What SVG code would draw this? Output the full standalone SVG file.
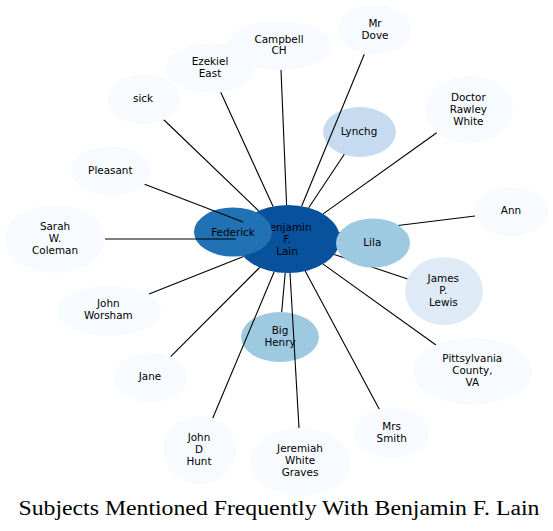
<svg xmlns="http://www.w3.org/2000/svg" width="553" height="531" viewBox="0 0 553 531">
<style>
.n{font-family:"DejaVu Sans","Liberation Sans",sans-serif;font-size:10.4px;fill:#000;text-anchor:middle}
.e line{stroke:#000;stroke-width:1.1;fill:none}
.c0{fill:#08519c}.c1{fill:#2171b5}.c2{fill:#9ecae1}.c3{fill:#c6dbef}.c4{fill:#deebf7}.c5{fill:#f7fbff}
.t{font-family:"Liberation Serif","DejaVu Serif",serif;font-size:20px;fill:#000}
</style>
<rect width="553" height="531" fill="#fff"/>
<g id="node-center"><ellipse class="c0" cx="288" cy="239" rx="52" ry="34"/><text class="n" x="287" y="230.5">Benjamin</text><text class="n" x="287" y="242.5">F.</text><text class="n" x="287" y="254.5">Lain</text></g>
<g id="node-federick"><ellipse class="c1" cx="233" cy="232" rx="39" ry="24.5"/><text class="n" x="233" y="235.7">Federick</text></g>
<g id="node-bighenry"><ellipse class="c2" cx="280" cy="337" rx="39" ry="25"/><text class="n" x="280" y="334.3">Big</text><text class="n" x="280" y="345.8">Henry</text></g>
<g id="node-lynchg"><ellipse class="c3" cx="359.5" cy="132" rx="36.5" ry="25"/><text class="n" x="359" y="135">Lynchg</text></g>
<g id="connectors" class="e">
<line x1="163" y1="119" x2="258.7" y2="210.9"/>
<line x1="220.7" y1="92.3" x2="273.1" y2="206.4"/>
<line x1="281" y1="70" x2="286.6" y2="205"/>
<line x1="364.3" y1="54.3" x2="301.6" y2="206.2"/>
<line x1="344.3" y1="154.3" x2="308.7" y2="207.8"/>
<line x1="436.7" y1="132.7" x2="323.1" y2="213.9"/>
<line x1="475" y1="216" x2="339.1" y2="232.7"/>
<line x1="339.5" y1="241.3" x2="350" y2="242"/>
<line x1="407.7" y1="279" x2="334.3" y2="254.5"/>
<line x1="436" y1="345" x2="323.1" y2="264.1"/>
<line x1="379.3" y1="409.3" x2="305.2" y2="271.1"/>
<line x1="299" y1="428" x2="290" y2="273"/>
<line x1="281.7" y1="312" x2="285.2" y2="273"/>
<line x1="212.7" y1="418.3" x2="274.2" y2="271.8"/>
<line x1="170.7" y1="356.7" x2="259.6" y2="267.5"/>
<line x1="149" y1="294" x2="243.5" y2="256.6"/>
<line x1="105" y1="239" x2="236" y2="239"/>
<line x1="144" y1="184" x2="243.1" y2="221.9"/>
</g>
<g id="node-lila"><ellipse class="c2" cx="373" cy="243" rx="37" ry="24.5"/><text class="n" x="372.3" y="246">Lila</text></g>
<g id="node-james"><ellipse class="c4" cx="444" cy="291" rx="39" ry="34"/><text class="n" x="443.3" y="282">James</text><text class="n" x="443.3" y="294">P.</text><text class="n" x="443.3" y="306">Lewis</text></g>
<g id="node-mrdove"><ellipse class="c5" cx="374.5" cy="29.5" rx="36.5" ry="24.5"/><text class="n" x="375" y="27">Mr</text><text class="n" x="375" y="38.5">Dove</text></g>
<g id="node-campbell"><ellipse class="c5" cx="279.5" cy="45.5" rx="52" ry="24.5"/><text class="n" x="279" y="42.5">Campbell</text><text class="n" x="279" y="54">CH</text></g>
<g id="node-ezekiel"><ellipse class="c5" cx="210" cy="68" rx="44" ry="25"/><text class="n" x="210" y="65">Ezekiel</text><text class="n" x="210" y="77">East</text></g>
<g id="node-sick"><ellipse class="c5" cx="143.5" cy="99" rx="36.5" ry="25"/><text class="n" x="143" y="102">sick</text></g>
<g id="node-doctor"><ellipse class="c5" cx="469" cy="109.5" rx="44" ry="33.5"/><text class="n" x="468.3" y="101">Doctor</text><text class="n" x="468.3" y="113">Rawley</text><text class="n" x="468.3" y="125">White</text></g>
<g id="node-pleasant"><ellipse class="c5" cx="111" cy="171" rx="40" ry="24.5"/><text class="n" x="110.3" y="174">Pleasant</text></g>
<g id="node-ann"><ellipse class="c5" cx="511.5" cy="211.5" rx="36.5" ry="24.5"/><text class="n" x="511" y="214">Ann</text></g>
<g id="node-sarah"><ellipse class="c5" cx="55" cy="239" rx="50" ry="34"/><text class="n" x="55" y="230">Sarah</text><text class="n" x="55" y="242">W.</text><text class="n" x="55" y="254">Coleman</text></g>
<g id="node-worsham"><ellipse class="c5" cx="109" cy="311" rx="52" ry="25"/><text class="n" x="108.3" y="307.3">John</text><text class="n" x="108.3" y="319.3">Worsham</text></g>
<g id="node-jane"><ellipse class="c5" cx="150.5" cy="377.5" rx="36.5" ry="24.5"/><text class="n" x="150" y="380">Jane</text></g>
<g id="node-hunt"><ellipse class="c5" cx="199.5" cy="450" rx="36.5" ry="34"/><text class="n" x="199" y="440.7">John</text><text class="n" x="199" y="452.7">D</text><text class="n" x="199" y="464.7">Hunt</text></g>
<g id="node-jeremiah"><ellipse class="c5" cx="300.5" cy="462" rx="50" ry="34"/><text class="n" x="300" y="452.3">Jeremiah</text><text class="n" x="300" y="464.3">White</text><text class="n" x="300" y="476.3">Graves</text></g>
<g id="node-smith"><ellipse class="c5" cx="391.5" cy="433" rx="37.5" ry="25"/><text class="n" x="391.7" y="430">Mrs</text><text class="n" x="391.7" y="442">Smith</text></g>
<g id="node-pittsylvania"><ellipse class="c5" cx="472.5" cy="371.5" rx="59.5" ry="33.5"/><text class="n" x="472.3" y="362.3">Pittsylvania</text><text class="n" x="472.3" y="374.3">County,</text><text class="n" x="472.3" y="386.3">VA</text></g>
<text class="t" x="18.5" y="515" textLength="521" lengthAdjust="spacingAndGlyphs">Subjects Mentioned Frequently With Benjamin F. Lain</text>
</svg>
